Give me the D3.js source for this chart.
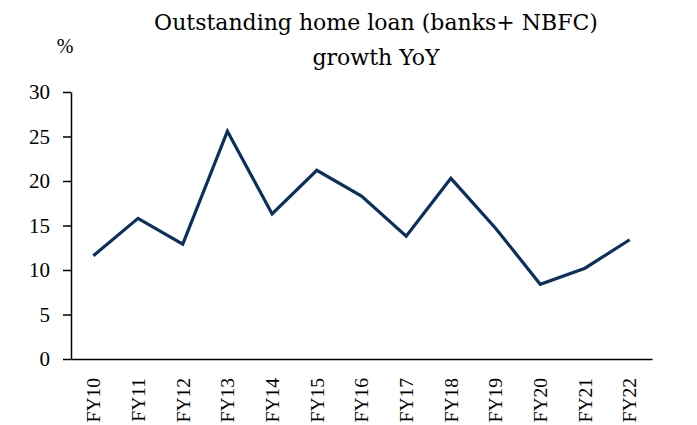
<!DOCTYPE html>
<html>
<head>
<meta charset="utf-8">
<script src="https://cdn.jsdelivr.net/npm/d3@7"></script>
<style>
  html, body { margin: 0; padding: 0; background: #fff; }
  svg { display: block; }
  text { font-family: "Liberation Serif", "DejaVu Serif", serif; fill: #000; }
  .title { font-family: "DejaVu Serif", "Liberation Serif", serif; }
</style>
</head>
<body>
<svg id="chart" width="697" height="425"></svg>
<script>
// Fiscal years on the category axis
const years = ["FY10","FY11","FY12","FY13","FY14","FY15","FY16","FY17","FY18","FY19","FY20","FY21","FY22"];
// Outstanding home loan growth, year on year (%)
const growth = [11.6, 15.8, 12.9, 25.6, 16.3, 21.2, 18.3, 13.8, 20.3, 14.7, 8.4, 10.2, 13.4];
// Value axis ticks
const yTicks = [0, 5, 10, 15, 20, 25, 30];
const titleLines = ["Outstanding home loan (banks+ NBFC)", "growth YoY"];
const unitLabel = "%";

const svg = d3.select("#chart");
const plotLeft = 71, plotRight = 652, plotTop = 92, plotBottom = 359;

const x = d3.scaleBand().domain(years).range([plotLeft, plotRight]).padding(0);
const y = d3.scaleLinear().domain([0, 30]).range([plotBottom, plotTop]);

// Title
svg.append("g").selectAll("text").data(titleLines).join("text")
  .attr("class", "title")
  .attr("x", 376)
  .attr("y", (d, i) => 30 + i * 35)
  .attr("text-anchor", "middle")
  .style("font-size", "22px")
  .text(d => d);

svg.append("text")
  .attr("x", 65).attr("y", 53)
  .attr("text-anchor", "middle")
  .style("font-size", "20px")
  .text(unitLabel);

// Y axis
const yAxis = svg.append("g")
  .attr("transform", `translate(${plotLeft},0)`)
  .call(d3.axisLeft(y).tickValues(yTicks).tickSize(8).tickSizeOuter(0).tickPadding(13));
yAxis.selectAll("path, line").attr("stroke", "#000").attr("stroke-width", 1.5);
yAxis.selectAll("text").style("font-size", "21px").attr("font-family", null);

// X axis
const xAxis = svg.append("g")
  .attr("transform", `translate(0,${plotBottom})`)
  .call(d3.axisBottom(x).tickSize(0).tickSizeOuter(0));
xAxis.select("path").attr("stroke", "#000").attr("stroke-width", 1.5);
xAxis.selectAll("text")
  .style("font-size", "19.5px")
  .attr("font-family", null)
  .attr("text-anchor", "end")
  .attr("transform", "rotate(-90)")
  .attr("x", -19)
  .attr("y", 0)
  .attr("dy", "0.35em");

// Growth line
const line = d3.line()
  .x((d, i) => x(years[i]) + x.bandwidth() / 2)
  .y(d => y(d));

svg.append("path")
  .datum(growth)
  .attr("fill", "none")
  .attr("stroke", "#0B305E")
  .attr("stroke-width", 3.2)
  .attr("stroke-linejoin", "miter")
  .attr("d", line);
</script>
</body>
</html>
